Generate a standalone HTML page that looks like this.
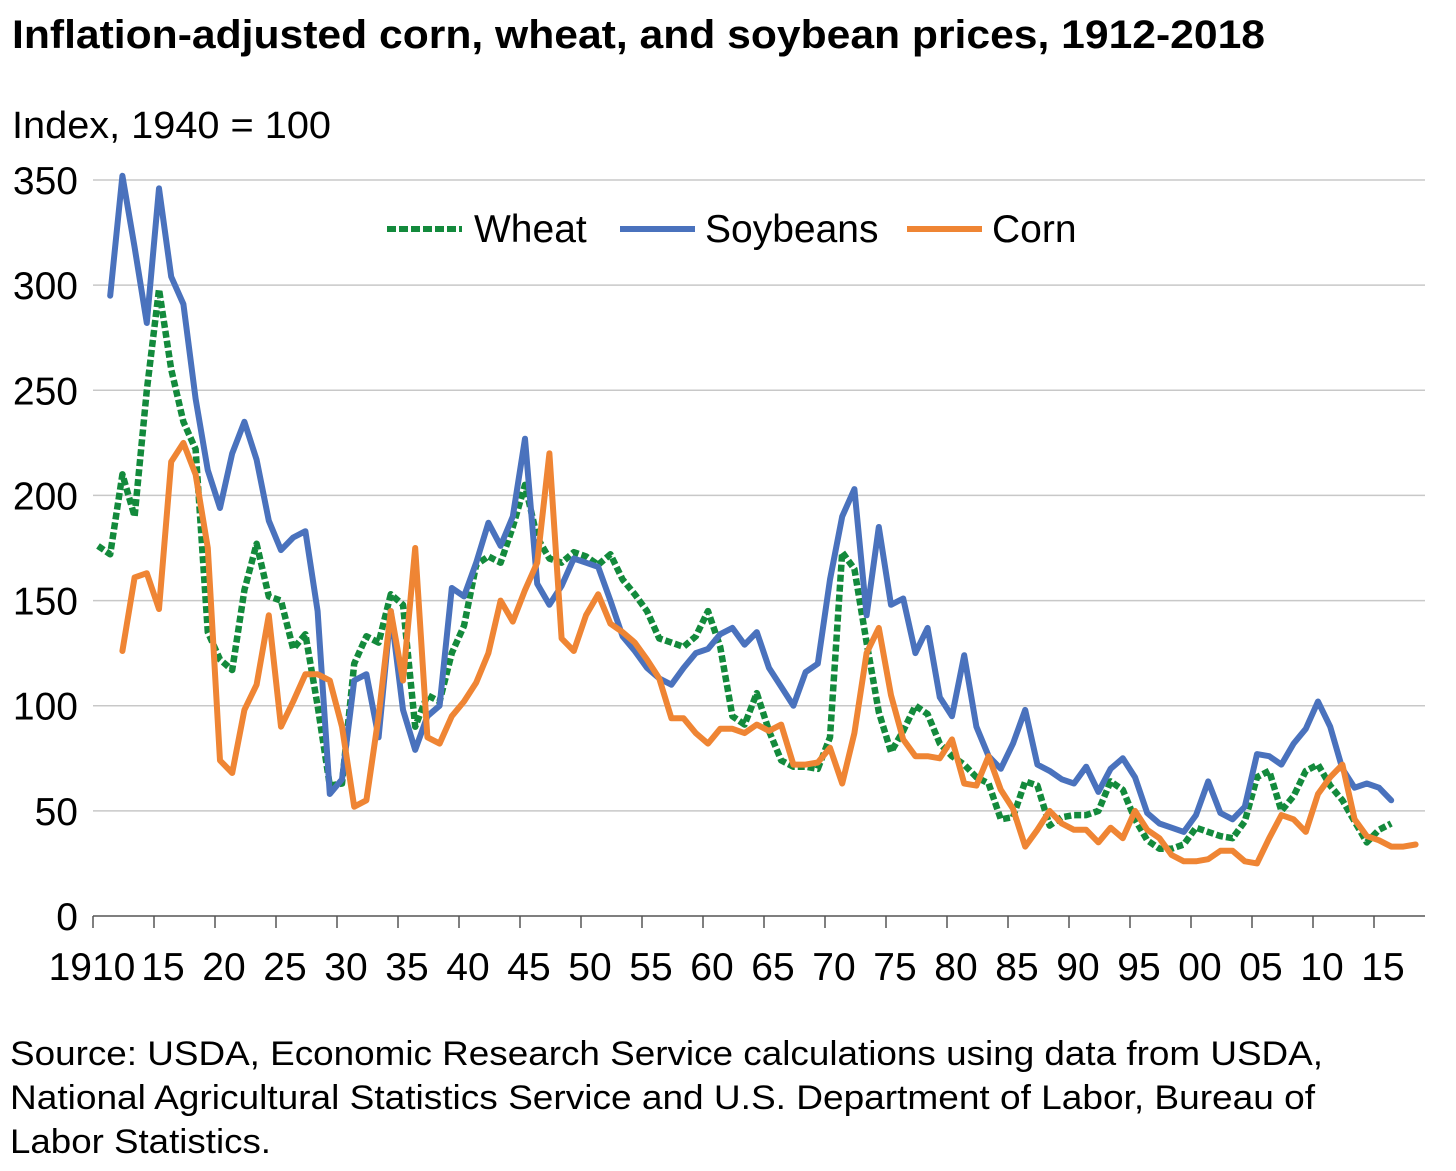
<!DOCTYPE html>
<html><head><meta charset="utf-8"><style>
body{margin:0;background:#fff;font-family:"Liberation Sans",Arial,sans-serif;}
svg text{font-family:"Liberation Sans",Arial,sans-serif;fill:#000;}
</style></head><body>
<svg width="1456" height="1166" viewBox="0 0 1456 1166" xmlns="http://www.w3.org/2000/svg">
<text x="12" y="48" font-size="40" font-weight="bold" textLength="1253" lengthAdjust="spacingAndGlyphs">Inflation-adjusted corn, wheat, and soybean prices, 1912-2018</text>
<text x="12" y="138" font-size="38" textLength="319" lengthAdjust="spacingAndGlyphs">Index, 1940 = 100</text>
<g id="grid"></g>
<g id="axes"></g>
<g id="series"></g>
<g>
<line x1="387" y1="229" x2="462" y2="229" stroke="#138a3c" stroke-width="6" stroke-dasharray="9,3"/>
<text x="474" y="242" font-size="39">Wheat</text>
<line x1="620" y1="229" x2="695" y2="229" stroke="#4a72bd" stroke-width="6"/>
<text x="705" y="242" font-size="39">Soybeans</text>
<line x1="907" y1="229" x2="982" y2="229" stroke="#ef8534" stroke-width="6"/>
<text x="992" y="242" font-size="39">Corn</text>
</g>
<g font-size="34">
<text x="10" y="1065" textLength="1313" lengthAdjust="spacingAndGlyphs">Source: USDA, Economic Research Service calculations using data from USDA,</text>
<text x="10" y="1109" textLength="1305" lengthAdjust="spacingAndGlyphs">National Agricultural Statistics Service and U.S. Department of Labor, Bureau of</text>
<text x="10" y="1153" textLength="261" lengthAdjust="spacingAndGlyphs">Labor Statistics.</text>
</g>
</svg>
<script>
const yTicks=[0,50,100,150,200,250,300,350];
const xTickLabels=["1910","15","20","25","30","35","40","45","50","55","60","65","70","75","80","85","90","95","00","05","10","15"];
const wheatStart=1910;
const wheat=[176,172,210,190,250,298,260,235,222,135,122,117,155,177,152,150,127,134,100,62,63,120,133,130,153,148,90,105,102,125,138,167,171,168,185,205,180,170,168,173,171,167,172,160,153,145,132,130,128,133,145,128,95,91,106,88,74,71,71,70,85,173,165,130,97,78,88,100,96,82,76,72,66,63,46,47,64,62,43,47,48,48,50,64,60,46,36,32,32,34,42,40,38,37,45,66,69,50,57,69,72,62,55,45,35,41,44];
const soyStart=1911;
const soybeans=[295,352,318,282,346,304,291,246,212,194,220,235,217,188,174,180,183,145,58,65,112,115,85,145,98,79,95,100,156,152,168,187,176,190,227,158,148,157,170,168,166,150,133,126,118,113,110,118,125,127,134,137,129,135,118,109,100,116,120,160,190,203,143,185,148,151,125,137,104,95,124,90,76,70,82,98,72,69,65,63,71,59,70,75,66,49,44,42,40,48,64,49,46,52,77,76,72,82,89,102,90,70,61,63,61,55];
const cornStart=1912;
const corn=[126,161,163,146,216,225,210,175,74,68,98,110,143,90,102,115,115,112,90,52,55,95,145,112,175,85,82,95,102,111,125,150,140,155,168,220,132,126,143,153,139,135,130,122,113,94,94,87,82,89,89,87,91,88,91,72,72,73,80,63,87,125,137,105,84,76,76,75,84,63,62,76,60,51,33,41,50,44,41,41,35,42,37,50,41,37,29,26,26,27,31,31,26,25,37,48,46,40,58,66,72,46,38,36,33,33,34];

const NS="http://www.w3.org/2000/svg";
const X0=93,X1=1425,Y0=916,PPU=(916-180)/350,PPY=12.2;
function yS(v){return Y0-v*PPU;}
function xTick(yr){return X0+(yr-1910)*PPY;}
function xS(yr){return X0+5+(yr-1910)*PPY;}
const grid=document.getElementById('grid'),axes=document.getElementById('axes'),ser=document.getElementById('series');
function mk(tag,attrs,parent){const e=document.createElementNS(NS,tag);for(const k in attrs)e.setAttribute(k,attrs[k]);parent.appendChild(e);return e;}
yTicks.forEach(v=>{
  if(v>0){const l=mk('line',{x1:X0,x2:X1,y1:yS(v),y2:yS(v),stroke:'#c8c8c8','stroke-width':1.5},grid);
  
  }
  const t=mk('text',{x:78,y:yS(v)+14,'text-anchor':'end','font-size':39},axes);
  t.textContent=v;
  
  
});
const ax=mk('line',{x1:X0,x2:X1,y1:Y0,y2:Y0,stroke:'#555','stroke-width':1.5},axes);


xTickLabels.forEach((lab,i)=>{
  const x=xTick(1910+i*5);
  const tk=mk('line',{x1:x,x2:x,y1:Y0,y2:Y0+12,stroke:'#555','stroke-width':1.5},axes);
  
  
  const t=mk('text',{x:i==0?x-1:x+9,y:980,'text-anchor':'middle','font-size':39},axes);
  t.textContent=lab;
  
  
});
function line(data,start,color,dash,name){
  const pts=data.map((v,i)=>xS(start+i).toFixed(1)+','+yS(v).toFixed(1)).join(' ');
  const p=mk('polyline',{points:pts,fill:'none',stroke:color,'stroke-width':dash?6.5:6,'stroke-linejoin':'round','stroke-linecap':dash?'butt':'round'},ser);
  if(dash)p.setAttribute('stroke-dasharray','7,3');
  
  
}
line(wheat,wheatStart,'#138a3c',true,'wheat-line');
line(soybeans,soyStart,'#4a72bd',false,'soybeans-line');
line(corn,cornStart,'#ef8534',false,'corn-line');
</script>
</body></html>
